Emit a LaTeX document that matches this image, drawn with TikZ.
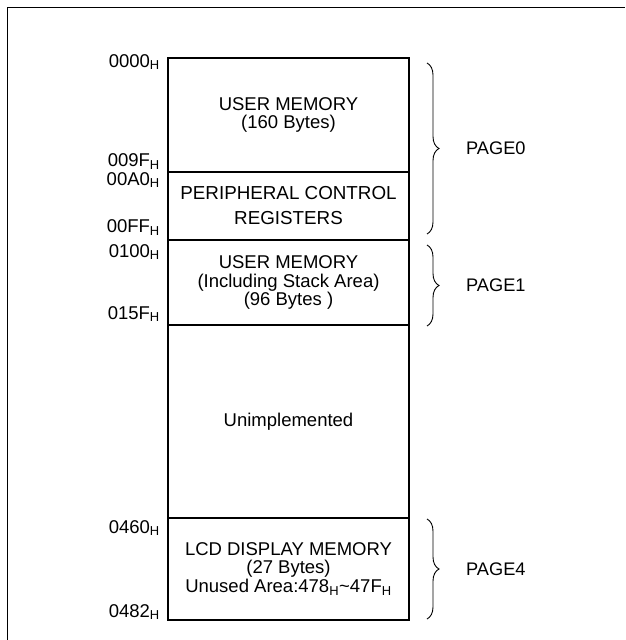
\documentclass[tikz,border=0pt]{standalone}
\usepackage{fontspec}
\setmainfont{Liberation Sans}
\usetikzlibrary{decorations.pathreplacing}
\newcommand{\hs}{\textsubscript{H}}
\begin{document}
\begin{tikzpicture}[x=1pt,y=1pt,
  cell/.style={draw, line width=2.9pt, rectangle, inner sep=0pt, minimum width=241pt, align=center,
    font=\fontsize{18.5}{18.5}\selectfont},
  addr/.style={anchor=base east, inner sep=0pt, font=\fontsize{18.5}{18.5}\selectfont},
  pagelbl/.style={anchor=west, inner sep=0pt, font=\fontsize{18.2}{18.5}\selectfont},
  pagebrace/.style={decorate, decoration={brace, amplitude=12pt}, line width=0.9pt}]
\useasboundingbox (0,0) rectangle (625,-640);
\draw[line width=1pt] (7,-640) -- (7,-7) -- (625,-7);
% cells
\node[cell, minimum height=114pt] (c0) at (288.5,-115) {USER MEMORY\\(160 Bytes)};
\node[cell, minimum height=68pt, font=\fontsize{18.8}{25}\selectfont] (c1) at (288.5,-206) {PERIPHERAL CONTROL\\REGISTERS};
\node[cell, minimum height=85pt] (c2) at (288.5,-282.5) {USER MEMORY\\(Including Stack Area)\\(96 Bytes )};
\node[cell, minimum height=193pt] (c3) at (288.5,-421.5) {Unimplemented};
\node[cell, minimum height=102pt] (c4) at (288.5,-569) {LCD DISPLAY MEMORY\\(27 Bytes)\\Unused Area:478\hs\textasciitilde 47F\hs};
% addresses
\node[addr] (a0) at (160,-67) {0000\hs};
\node[addr] (a1) at (160,-166.5) {009F\hs};
\node[addr] (a2) at (160,-185) {00A0\hs};
\node[addr] (a3) at (160,-232.5) {00FF\hs};
\node[addr] (a4) at (160,-257) {0100\hs};
\node[addr] (a5) at (160,-319) {015F\hs};
\node[addr] (a6) at (160,-533) {0460\hs};
\node[addr] (a7) at (160,-617) {0482\hs};
% braces
\coordinate (b0t) at (427,-63);
\coordinate (b0b) at (427,-234);
\coordinate (b1t) at (427,-245);
\coordinate (b1b) at (427,-326);
\coordinate (b4t) at (427,-519);
\coordinate (b4b) at (427,-619);
\draw[pagebrace] (b0t) -- (b0b);
\draw[pagebrace] (b1t) -- (b1b);
\draw[pagebrace] (b4t) -- (b4b);
\node[pagelbl] (p0) at (466,-148.5) {PAGE0};
\node[pagelbl] (p1) at (466,-285.5) {PAGE1};
\node[pagelbl] (p4) at (466,-569) {PAGE4};
\end{tikzpicture}
\end{document}
